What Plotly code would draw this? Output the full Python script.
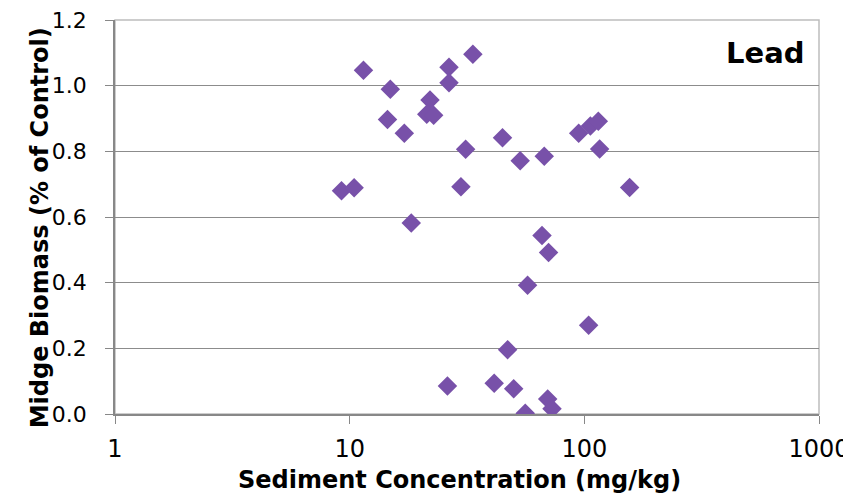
import plotly.graph_objects as go

# sediment lead concentration (mg/kg) vs midge biomass (fraction of control)
conc = [11.45, 14.9, 26.5, 26.5, 33.5, 22.0, 21.3, 22.8, 14.5, 17.1,
        31.2, 9.23, 10.45, 29.8, 18.3, 44.8, 53.3, 67.5, 94.6, 106.1,
        114.7, 116.2, 156.0, 66.0, 70.4, 57.3, 104.3, 47.1, 41.3, 50.0,
        56.0, 69.8, 72.8, 26.1]
biomass = [1.047, 0.989, 1.056, 1.009, 1.096, 0.956, 0.913, 0.910, 0.897, 0.855,
           0.806, 0.680, 0.689, 0.692, 0.582, 0.841, 0.771, 0.785, 0.855, 0.877,
           0.892, 0.807, 0.690, 0.544, 0.492, 0.392, 0.270, 0.196, 0.094, 0.077,
           0.002, 0.046, 0.016, 0.085]

y_ticks = [0.0, 0.2, 0.4, 0.6, 0.8, 1.0, 1.2]
x_ticks = [1, 10, 100, 1000]

font = "DejaVu Sans"

fig = go.Figure()
fig.add_trace(go.Scatter(
    x=conc, y=biomass, mode="markers",
    marker=dict(symbol="diamond", size=15, color="#7851A9", line=dict(width=0)),
    showlegend=False,
))

# page body adds an 8px offset, margins compensate for it
fig.update_layout(
    width=851, height=504,
    margin=dict(l=107, r=40, t=12, b=98),
    paper_bgcolor="white", plot_bgcolor="white",
    font=dict(family=font, size=24, color="black"),
    shapes=[dict(type="rect", xref="paper", yref="paper", x0=0, x1=1, y0=0, y1=1,
                 line=dict(color="#BDBDBD", width=1.5), layer="below")],
    annotations=[
        dict(text="<b>Lead</b>", xref="paper", yref="paper", x=0.982, y=0.915,
             xanchor="right", yanchor="middle", showarrow=False,
             font=dict(family=font, size=29, color="black")),
        dict(text="<b>Sediment Concentration (mg/kg)</b>", xref="paper", yref="paper",
             x=0.49, y=-0.168, xanchor="center", yanchor="middle", showarrow=False,
             font=dict(family=font, size=24, color="black")),
        dict(text="<b>Midge Biomass (% of Control)</b>", xref="paper", yref="paper",
             x=-0.107, y=0.473, xanchor="center", yanchor="middle", showarrow=False,
             textangle=-90, font=dict(family=font, size=24, color="black")),
    ],
)

fig.update_xaxes(
    type="log", range=[0, 3], automargin=False,
    tickvals=x_ticks, ticktext=[str(v) for v in x_ticks],
    ticks="outside", ticklen=8, tickcolor="#888888",
    showline=True, linecolor="#888888", linewidth=1.5,
    showgrid=False, zeroline=False,
    tickfont=dict(size=24), ticklabelstandoff=4, ticklabeloverflow="allow",
)
fig.update_yaxes(
    range=[0, 1.2], automargin=False,
    tickvals=y_ticks, ticktext=[f"{v:.1f}" for v in y_ticks],
    ticks="outside", ticklen=8, tickcolor="#888888",
    showline=True, linecolor="#888888", linewidth=1.5,
    showgrid=True, gridcolor="#8C8C8C", gridwidth=1.2,
    zeroline=False,
    tickfont=dict(size=22), ticklabelstandoff=14, ticklabeloverflow="allow",
)

fig.write_html("out.html")
